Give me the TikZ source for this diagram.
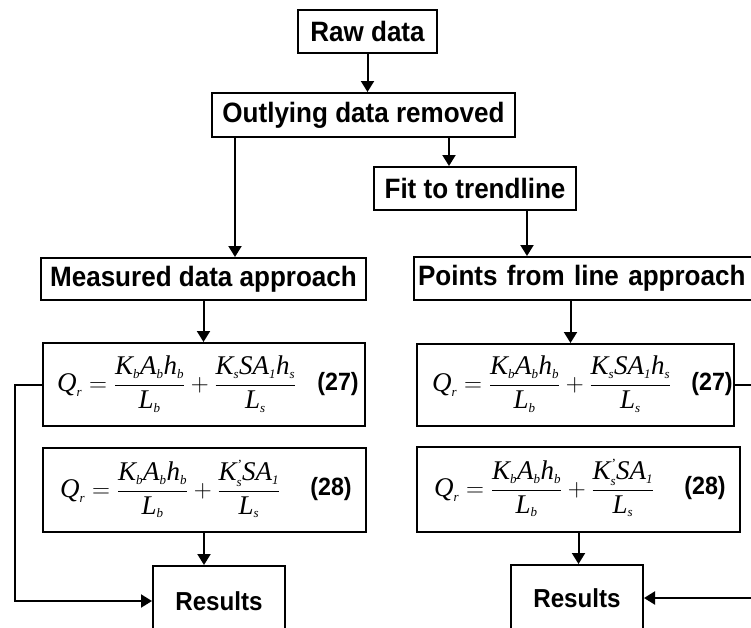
\documentclass[tikz,border=0pt]{standalone}
\usepackage{fontspec}
\setmainfont{Liberation Serif}
\setsansfont{Liberation Sans}
\newfontfamily\boxfont[FakeStretch=0.93]{Liberation Sans}
\usetikzlibrary{arrows.meta}
\newcommand{\mi}[1]{\mbox{\itshape #1}}
\newcommand{\sbx}[1]{_{\mbox{\fontsize{13}{13}\selectfont\itshape #1}}}
\newcommand{\prm}{^{\mbox{\fontsize{14}{14}\selectfont\itshape '}}}
\newcommand{\frmA}{$\mi{Q}\sbx{r} = \displaystyle\frac{\mi{K}\sbx{b}\mi{A}\sbx{b}\mi{h}\sbx{b}}{\mi{L}\sbx{b}} + \frac{\mi{K}\sbx{s}\mi{SA}\sbx{1}\mi{h}\sbx{s}}{\mi{L}\sbx{s}}$}
\newcommand{\frmB}{$\mi{Q}\sbx{r} = \displaystyle\frac{\mi{K}\sbx{b}\mi{A}\sbx{b}\mi{h}\sbx{b}}{\mi{L}\sbx{b}} + \frac{\mi{K}\prm\sbx{s}\mi{SA}\sbx{1}}{\mi{L}\sbx{s}}$}
\begin{document}
\begin{tikzpicture}[x=1pt,y=-1pt,
  box/.style={draw,line width=2pt,rectangle,inner sep=0pt,
    font=\boxfont\bfseries\fontsize{28}{30}\selectfont},
  eqbox/.style={draw,line width=2pt,rectangle,inner sep=0pt},
  eqtxt/.style={inner sep=0pt,anchor=west,font=\fontsize{27}{29}\selectfont},
  eqnum/.style={inner sep=0pt,font=\boxfont\bfseries\fontsize{25}{27}\selectfont},
  arr/.style={line width=2pt,-{Triangle[width=13pt,length=11pt]}}]
\clip (0,0) rectangle (751,627);
\fill[white] (0,0) rectangle (751,627);
% boxes
\node[box,minimum width=139pt,minimum height=43pt] (raw) at (367.5,31.5) {Raw data};
\node[box,minimum width=303pt,minimum height=44pt] (out) at (363.5,115) {Outlying data removed};
\node[box,minimum width=202pt,minimum height=43pt] (fit) at (475,188.5) {Fit to trendline};
\node[box,minimum width=325pt,minimum height=42pt] (meas) at (203.5,279) {Measured data approach};
\node[box,minimum width=341pt,minimum height=43pt,text width=333pt,align=left] (pts) at (584.5,278.5) {Points from line approach};
% equation boxes
\node[eqbox,minimum width=322pt,minimum height=83pt] (e27L) at (204,384.5) {};
\node[eqbox,minimum width=323pt,minimum height=84pt] (e28L) at (204,490) {};
\node[eqbox,minimum width=317pt,minimum height=82pt] (e27R) at (575.5,385) {};
\node[eqbox,minimum width=323pt,minimum height=85pt] (e28R) at (578.5,489.5) {};
% formulas
\node[eqtxt] (f27L) at (57,384) {\frmA};
\node[eqnum] (n27L) at (338,384) {(27)};
\node[eqtxt] (f28L) at (60,489) {\frmB};
\node[eqnum] (n28L) at (331,489) {(28)};
\node[eqtxt] (f27R) at (432,384) {\frmA};
\node[eqnum] (n27R) at (712,384) {(27)};
\node[eqtxt] (f28R) at (434,488) {\frmB};
\node[eqnum] (n28R) at (705,488) {(28)};
% results
\node[box,minimum width=132pt,minimum height=70pt,font=\boxfont\bfseries\fontsize{26}{28}\selectfont] (resL) at (219,601) {Results};
\node[box,minimum width=132pt,minimum height=66pt,font=\boxfont\bfseries\fontsize{26}{28}\selectfont] (resR) at (577,598) {Results};
% connectors
\draw[arr] (raw.south) -- (raw.south |- out.north);
\draw[arr] ([xshift=-128.5pt]out.south) -- ([xshift=-128.5pt]out.south |- meas.north);
\draw[arr] ([xshift=85.5pt]out.south) -- ([xshift=85.5pt]out.south |- fit.north);
\draw[arr] ([xshift=52pt]fit.south) -- ([xshift=52pt]fit.south |- pts.north);
\draw[arr] (meas.south) -- (meas.south |- e27L.north);
\draw[arr] ([xshift=-14pt]pts.south) -- ([xshift=-14pt]pts.south |- e27R.north);
\draw[arr] (e28L.south) -- (e28L.south |- resL.north);
\draw[arr] (e28R.south) -- (e28R.south |- resR.north);
\draw[arr] (e27L.west) -- ++(-27,0) |- (resL.west);
\draw[arr] (e27R.east) -- ++(40,0) |- (resR.east);
\end{tikzpicture}
\end{document}
